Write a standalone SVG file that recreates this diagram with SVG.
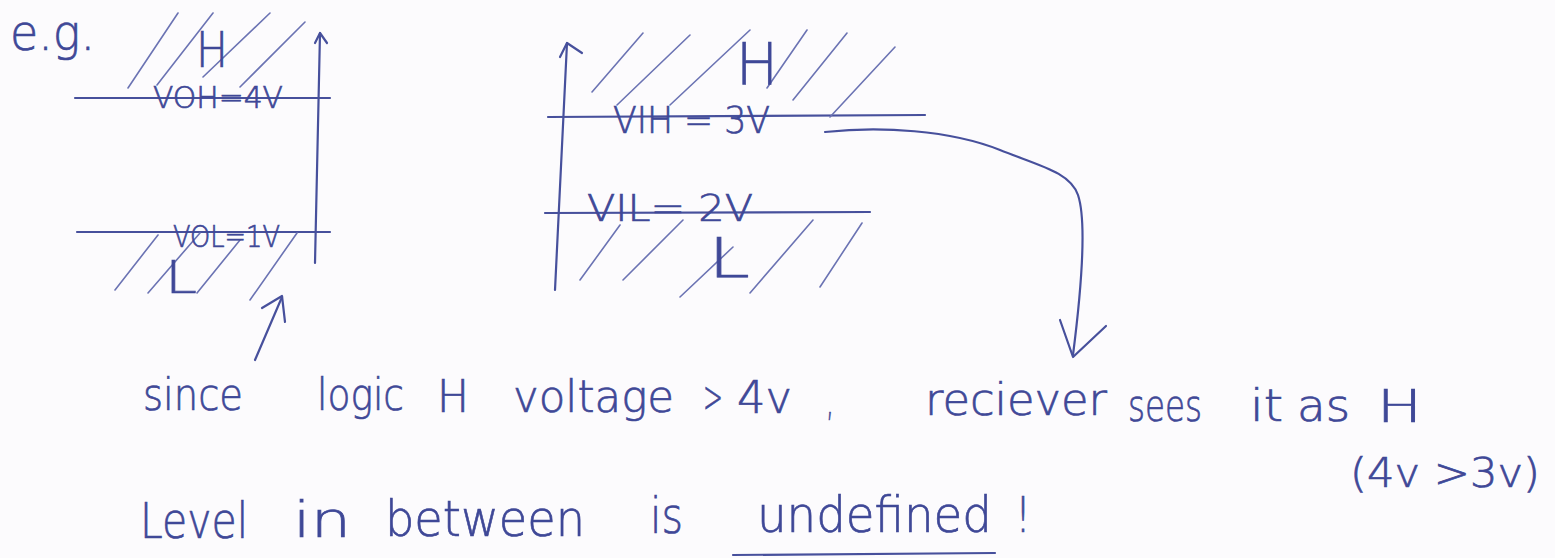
<svg xmlns="http://www.w3.org/2000/svg" width="1555" height="558" viewBox="0 0 1555 558">
<style>
.bg{fill:#fcfbfd}
.ink{stroke:#47509c;stroke-width:2.2;fill:none;stroke-linecap:round;stroke-linejoin:round}
.hatch{stroke:#6b73b3;stroke-width:1.6;fill:none;stroke-linecap:round}
.t{font-family:"DejaVu Sans","Liberation Sans",sans-serif;font-weight:200;fill:#3f4897;stroke:#3f4897;stroke-width:0.7}
.s1{font-size:44px}
.s2{font-size:50px}
.lab{font-size:30px}
.lab2{font-size:38px}
</style>
<rect class="bg" x="0" y="0" width="1555" height="558"/>

<g id="eg-label">
<text class="t" x="10" y="50" font-size="50" textLength="85" lengthAdjust="spacingAndGlyphs">e.g.</text>
</g>

<g id="left-chart">
<path class="ink" d="M320,33 L315,263"/>
<path class="ink" d="M315,43 L320,33 L327,43"/>
<path class="ink" d="M75,98 L330,98"/>
<path class="ink" d="M77,232 L330,232"/>
<g id="left-hatch-high">
<path class="hatch" d="M128,88 L178,13 M157,85 L213,13 M203,77 L270,13 M240,87 L305,22"/>
</g>
<g id="left-hatch-low">
<path class="hatch" d="M115,290 L158,235 M148,293 L200,233 M197,293 L240,240 M250,300 L297,233"/>
</g>
<text class="t lab" x="153" y="108" textLength="130" lengthAdjust="spacingAndGlyphs">VOH=4V</text>
<text class="t lab" x="173" y="247" textLength="107" lengthAdjust="spacingAndGlyphs">VOL=1V</text>
<text class="t" x="196" y="67" font-size="50" textLength="32" lengthAdjust="spacingAndGlyphs">H</text>
<text class="t" x="165" y="293" font-size="45" textLength="32" lengthAdjust="spacingAndGlyphs">L</text>
</g>

<g id="right-chart">
<path class="ink" d="M567,43 L555,290"/>
<path class="ink" d="M560,57 L567,43 L582,53"/>
<path class="ink" d="M548,117 L925,115"/>
<path class="ink" d="M545,213 L870,212"/>
<g id="right-hatch-high">
<path class="hatch" d="M592,92 L643,33 M617,105 L690,35 M670,105 L750,30 M767,88 L807,30 M793,100 L847,33 M830,117 L895,47"/>
</g>
<g id="right-hatch-low">
<path class="hatch" d="M580,280 L620,225 M623,280 L683,220 M680,297 L733,247 M750,293 L813,220 M820,287 L862,223"/>
</g>
<text class="t lab2" x="613" y="133" textLength="157" lengthAdjust="spacingAndGlyphs">VIH = 3V</text>
<text class="t lab2" x="587" y="221" textLength="166" lengthAdjust="spacingAndGlyphs">VIL= 2V</text>
<text class="t" x="736" y="85" font-size="58" textLength="42" lengthAdjust="spacingAndGlyphs">H</text>
<text class="t" x="708" y="277" font-size="55" textLength="42" lengthAdjust="spacingAndGlyphs">L</text>
</g>

<g id="connectors">
<path class="ink" d="M255,360 L282,297"/>
<path class="ink" d="M262,308 L282,296 L285,322"/>
<path class="ink" d="M825,132 C880,126 950,130 1000,150 C1040,166 1070,172 1078,195 C1088,225 1080,300 1073,355"/>
<path class="ink" d="M1060,320 L1073,357 L1106,326"/>
</g>

<g id="sentence-1">
<text class="t s1" x="143" y="410" textLength="100" lengthAdjust="spacingAndGlyphs">since</text>
<text class="t s1" x="317" y="410" textLength="87" lengthAdjust="spacingAndGlyphs">logic</text>
<text class="t s1" x="437" y="412" textLength="32" lengthAdjust="spacingAndGlyphs">H</text>
<text class="t s1" x="513" y="412" textLength="161" lengthAdjust="spacingAndGlyphs">voltage</text>
<text class="t s1" x="703" y="412" textLength="20" lengthAdjust="spacingAndGlyphs">&gt;</text>
<text class="t s1" x="737" y="413" textLength="55" lengthAdjust="spacingAndGlyphs">4v</text>
<text class="t s1" x="826" y="415" textLength="8" lengthAdjust="spacingAndGlyphs">,</text>
<text class="t s1" x="925" y="415" textLength="182" lengthAdjust="spacingAndGlyphs">reciever</text>
<text class="t s1" x="1128" y="421" textLength="74" lengthAdjust="spacingAndGlyphs">sees</text>
<text class="t s1" x="1250" y="421" textLength="33" lengthAdjust="spacingAndGlyphs">it</text>
<text class="t s1" x="1297" y="421" textLength="53" lengthAdjust="spacingAndGlyphs">as</text>
<text class="t s1" x="1377" y="422" textLength="45" lengthAdjust="spacingAndGlyphs">H</text>
<text class="t" x="1350" y="487" font-size="40" textLength="190" lengthAdjust="spacingAndGlyphs">(4v &gt;3v)</text>
</g>

<g id="sentence-2">
<text class="t s2" x="140" y="538" textLength="108" lengthAdjust="spacingAndGlyphs">Level</text>
<text class="t s2" x="293" y="537" textLength="58" lengthAdjust="spacingAndGlyphs">in</text>
<text class="t s2" x="385" y="536" textLength="200" lengthAdjust="spacingAndGlyphs">between</text>
<text class="t s2" x="650" y="533" textLength="33" lengthAdjust="spacingAndGlyphs">is</text>
<text class="t s2" x="757" y="532" textLength="235" lengthAdjust="spacingAndGlyphs">undefined</text>
<text class="t s2" x="1015" y="532" textLength="16" lengthAdjust="spacingAndGlyphs">!</text>
<path class="ink" d="M733,555 L995,553"/>
</g>
</svg>
